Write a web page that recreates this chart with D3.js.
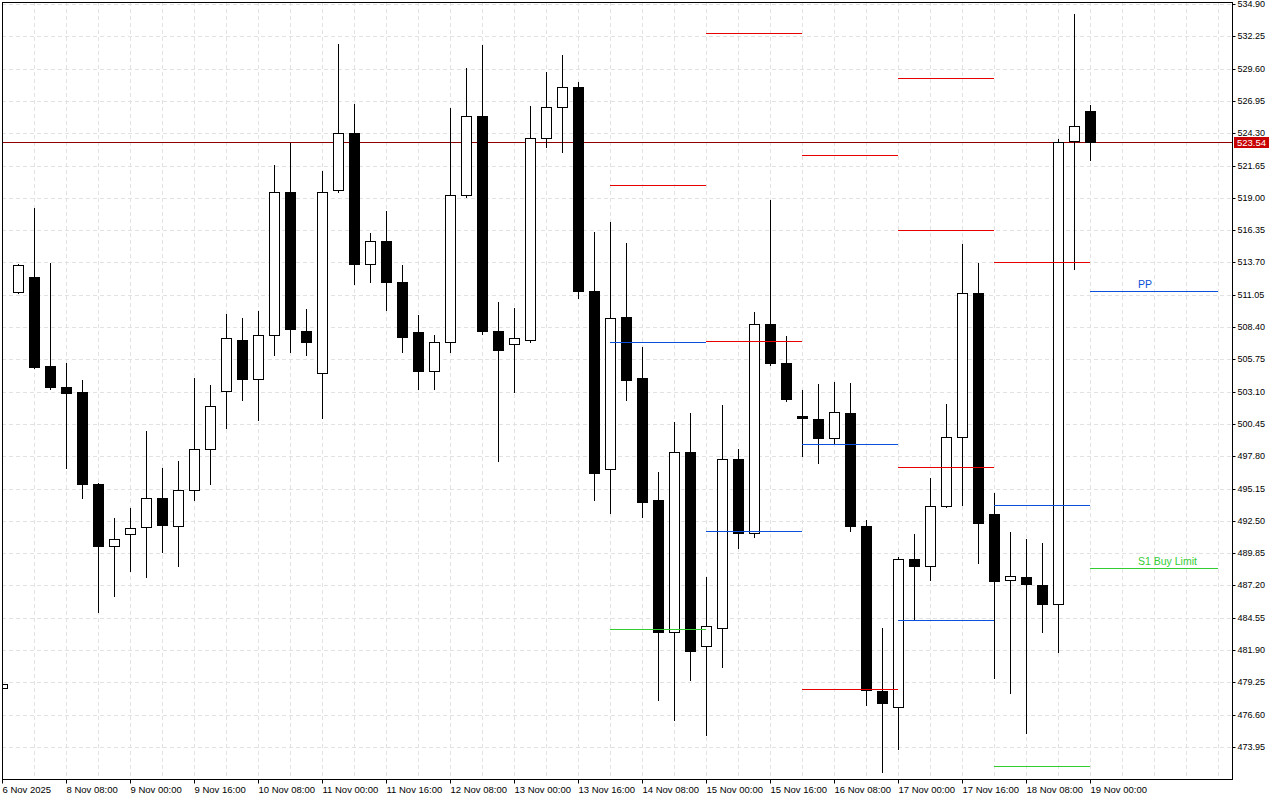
<!DOCTYPE html>
<html><head><meta charset="utf-8">
<script src="https://cdn.jsdelivr.net/npm/d3@7"></script>
<style>
html,body{margin:0;padding:0;background:#fff;}
svg{display:block;}
text{font-family:"Liberation Sans",Arial,sans-serif;}
</style></head><body>
<svg id="c" width="1280" height="800"></svg>
<script>
// ---------- DATA ----------
const firstBar = -1; // index of first (partially visible) bar
const opens  = [478.80,511.27,512.50,505.20,503.48,503.07,495.52,490.44,491.42,492.00,494.37,492.08,495.03,498.39,503.15,507.34,504.14,507.75,519.48,508.07,504.63,519.64,524.32,513.57,515.46,512.09,507.99,504.79,507.17,519.23,525.71,508.07,507.01,507.34,523.91,526.45,528.09,511.36,496.76,509.22,504.22,494.21,483.38,498.15,482.23,483.71,497.57,491.50,508.65,505.45,501.10,500.86,499.30,501.35,492.08,478.54,477.23,489.37,488.80,493.72,499.38,511.19,493.06,487.65,487.90,487.24,485.68,523.66,526.12];
const highs  = [479.15,513.60,518.17,513.65,505.45,504.06,495.60,492.73,493.55,499.87,496.84,497.41,504.22,503.64,509.47,509.14,509.72,521.69,523.50,509.88,521.20,531.62,526.70,516.11,517.92,513.49,509.39,507.75,526.37,529.65,531.54,510.45,509.96,526.53,529.32,530.72,528.50,516.20,517.02,515.29,506.76,496.50,500.61,501.35,487.90,502.00,498.39,509.63,518.82,507.66,503.23,503.73,503.89,503.80,492.57,483.71,489.53,491.42,496.02,502.09,515.21,513.65,494.79,491.59,491.01,490.68,523.82,534.08,526.61];
const lows   = [478.75,511.20,505.00,503.32,496.84,494.37,485.02,486.34,488.39,487.90,489.95,488.80,494.21,495.52,500.12,502.41,500.77,506.11,506.35,506.11,500.94,519.50,511.93,512.10,509.80,506.35,503.32,503.32,506.35,519.10,507.83,497.41,503.07,507.17,523.17,522.76,510.78,494.21,493.14,502.41,492.82,477.80,476.16,479.44,474.93,480.51,490.27,491.20,505.30,502.34,497.82,497.25,498.80,491.67,477.39,471.90,473.78,484.37,487.65,493.60,493.80,489.04,479.61,478.38,475.10,483.38,481.74,513.16,522.10];
const closes = [479.10,513.49,505.12,503.48,502.99,495.52,490.44,491.01,491.91,494.37,492.16,495.03,498.39,501.92,507.50,504.14,507.75,519.48,508.24,507.17,519.48,524.32,513.57,515.46,512.09,507.58,504.79,507.17,519.23,525.71,508.07,506.52,507.50,523.91,526.45,528.09,511.36,496.43,509.14,504.06,494.05,483.38,498.15,481.82,483.87,497.57,491.50,508.65,505.45,502.50,500.94,499.30,501.43,492.08,478.62,477.56,489.37,488.80,493.72,499.38,511.19,492.32,487.57,487.98,487.32,485.68,523.58,524.89,523.54];

const yTickValues = [534.90,532.25,529.60,526.95,524.30,521.65,519.00,516.35,513.70,511.05,508.40,505.75,503.10,500.45,497.80,495.15,492.50,489.85,487.20,484.55,481.90,479.25,476.60,473.95];
const xTickBars   = [-1,3,7,11,15,19,23,27,31,35,39,43,47,51,55,59,63,67];
const xTickLabels = ["6 Nov 2025","8 Nov 08:00","9 Nov 00:00","9 Nov 16:00","10 Nov 08:00","11 Nov 00:00","11 Nov 16:00","12 Nov 08:00","13 Nov 00:00","13 Nov 16:00","14 Nov 08:00","15 Nov 00:00","15 Nov 16:00","16 Nov 08:00","17 Nov 00:00","17 Nov 16:00","18 Nov 08:00","19 Nov 00:00"];

// level segments (start bar, end bar, price, colour key)
const levelStart = [37,37,37,43,43,43,49,49,49,55,55,55,55,61,61,61,67,67];
const levelEnd   = [43,43,43,49,49,49,55,55,55,61,61,61,61,67,67,67,75,75];
const levelPrice = [520.05,507.17,483.63,532.52,507.25,491.67,522.51,498.81,478.71,528.87,516.36,496.92,484.37,513.74,493.80,472.39,511.36,488.63];
const levelKind  = ["R","B","G","R","R","B","R","B","R","R","R","R","B","R","B","G","B","G"];
const levelLabels = [{i:16,text:"PP"},{i:17,text:"S1 Buy Limit"}];
const lastPrice = 523.54;

// ---------- LAYOUT ----------
const L = 2, R = 1232, T = 2, B = 779;
const colors = {R:"#e60000", B:"#0a50d8", G:"#32cd32"};
const svg = d3.select("#c");
const x = d3.scaleLinear().domain([-1, 75.875]).range([L, R]);
const y = d3.scaleLinear().domain([473.95, 534.90]).range([747, 4]);
const cr = v => Math.round(v) + 0.5;

svg.append("defs").append("clipPath").attr("id","plot")
  .append("rect").attr("x",L).attr("y",T).attr("width",R-L).attr("height",B-T);

// grid
const grid = svg.append("g").attr("clip-path","url(#plot)")
  .attr("stroke","#e2e2e2").attr("stroke-width",1).attr("stroke-dasharray","4,3").attr("fill","none");
grid.selectAll("line.h").data(yTickValues).join("line").attr("class","h")
  .attr("x1",L).attr("x2",R).attr("y1",d=>cr(y(d))).attr("y2",d=>cr(y(d)));
const vIdx = d3.range(1, 76, 2);
grid.selectAll("line.v").data(vIdx).join("line").attr("class","v")
  .attr("y1",T).attr("y2",B).attr("x1",d=>cr(x(d))).attr("x2",d=>cr(x(d)));

// current price line
svg.append("line").attr("x1",L).attr("x2",R).attr("y1",cr(y(lastPrice))).attr("y2",cr(y(lastPrice)))
  .attr("stroke","#8c0000").attr("stroke-width",1);

// candles
const bars = d3.range(opens.length).map(k => ({i:firstBar+k, o:opens[k], h:highs[k], l:lows[k], c:closes[k]}));
const cg = svg.append("g").attr("clip-path","url(#plot)");
cg.selectAll("line.wick").data(bars).join("line").attr("class","wick")
  .attr("x1",d=>Math.round(x(d.i))+0.5).attr("x2",d=>Math.round(x(d.i))+0.5)
  .attr("y1",d=>Math.round(y(d.h))).attr("y2",d=>Math.round(y(d.l))+1)
  .attr("stroke","#000").attr("stroke-width",1);
cg.selectAll("rect.body").data(bars).join("rect").attr("class","body")
  .attr("x",d=>Math.round(x(d.i))-5+0.5).attr("width",10)
  .attr("y",d=>Math.round(y(Math.max(d.o,d.c)))+0.5)
  .attr("height",d=>Math.max(1, Math.round(y(Math.min(d.o,d.c))) - Math.round(y(Math.max(d.o,d.c)))))
  .attr("fill",d=>d.c>=d.o?"#fff":"#000").attr("stroke","#000").attr("stroke-width",1);

// levels
const lv = d3.range(levelPrice.length).map(k=>({s:levelStart[k],e:levelEnd[k],p:levelPrice[k],k:levelKind[k]}));
const lg = svg.append("g").attr("clip-path","url(#plot)");
lg.selectAll("line").data(lv).join("line")
  .attr("x1",d=>Math.round(x(d.s))).attr("x2",d=>Math.round(x(d.e)))
  .attr("y1",d=>cr(y(d.p))).attr("y2",d=>cr(y(d.p)))
  .attr("stroke",d=>colors[d.k]).attr("stroke-width",1.2);
lg.selectAll("text").data(levelLabels).join("text")
  .attr("x",d=>x(lv[d.i].s)+48).attr("y",d=>Math.round(y(lv[d.i].p))-3)
  .attr("fill",d=>colors[lv[d.i].k]).attr("font-size","10.5px").text(d=>d.text);

// axes
const yAxis = d3.axisRight(y).tickValues(yTickValues).tickSize(3).tickPadding(2).tickFormat(d3.format(".2f"));
const ya = svg.append("g").attr("transform",`translate(${R+0.5},0)`).call(yAxis);
ya.select(".domain").remove();
ya.selectAll("text").attr("font-size","9px").attr("font-family","Liberation Sans, Arial, sans-serif").attr("fill","#000");
ya.selectAll(".tick line").attr("stroke","#000");
ya.selectAll(".tick").attr("transform",d=>`translate(0,${cr(y(d))})`);

const xAxis = d3.axisBottom(x).tickValues(xTickBars).tickSize(4).tickFormat((d,i)=>xTickLabels[i]);
const xa = svg.append("g").attr("transform",`translate(0,${B+0.5})`).call(xAxis);
xa.select(".domain").remove();
xa.selectAll(".tick").attr("transform",d=>`translate(${Math.max(L, Math.round(x(d)))+0.5},0)`);
xa.selectAll(".tick line").attr("stroke","#000");
xa.selectAll("text").attr("text-anchor","start").attr("x",0).attr("dy",0).attr("y",13)
  .attr("font-size","9.5px").attr("font-family","Liberation Sans, Arial, sans-serif").attr("fill","#000");

// frame
const fr = svg.append("g").attr("stroke","#000").attr("stroke-width",1);
fr.append("line").attr("x1",L+0.5).attr("x2",L+0.5).attr("y1",T).attr("y2",B+1);
fr.append("line").attr("x1",R+0.5).attr("x2",R+0.5).attr("y1",T).attr("y2",B+1);
fr.append("line").attr("x1",L).attr("x2",R+1).attr("y1",T+0.5).attr("y2",T+0.5);
fr.append("line").attr("x1",L).attr("x2",R+1).attr("y1",B+0.5).attr("y2",B+0.5);

// price tag
const py = Math.round(y(lastPrice));
svg.append("rect").attr("x",R+2).attr("y",py-5).attr("width",35).attr("height",11).attr("fill","#c80000");
svg.append("text").attr("x",R+5).attr("y",py+4).attr("fill","#fff").attr("font-size","9.5px").text(d3.format(".2f")(lastPrice));
</script>
</body></html>
